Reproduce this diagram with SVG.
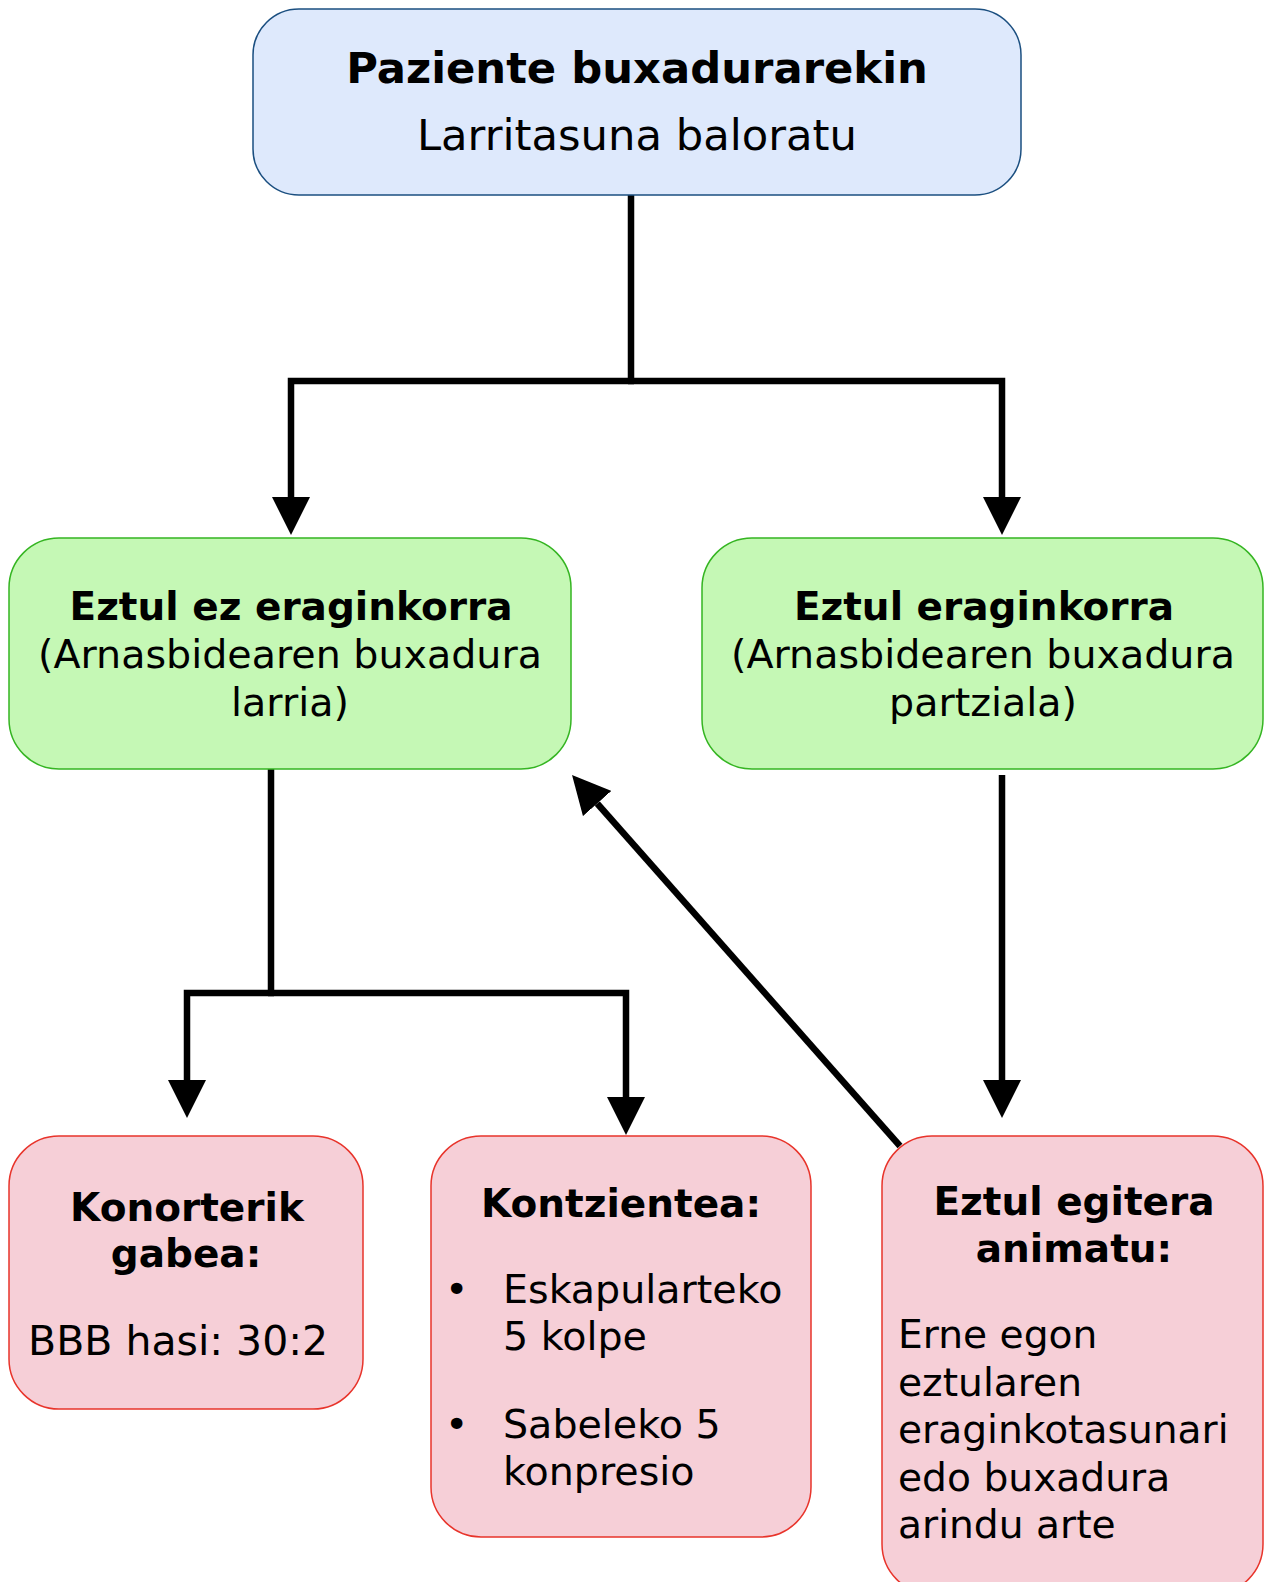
<svg xmlns="http://www.w3.org/2000/svg" width="1264" height="1582" viewBox="0 0 1264 1582">
<style>
text{font-family:"DejaVu Sans","Verdana",sans-serif;fill:#000}
.b{font-weight:bold}
.c{text-anchor:middle}
.top{fill:#dee9fc;stroke:#1b4f80;stroke-width:1.5}
.grn{fill:#c5f8b5;stroke:#35b522;stroke-width:1.5}
.pnk{fill:#f6cfd7;stroke:#e8342b;stroke-width:1.5}
.con{fill:none;stroke:#000;stroke-width:6.5;stroke-linejoin:miter}
</style>
<defs>
<marker id="ah" markerUnits="userSpaceOnUse" viewBox="0 0 38 38" markerWidth="38" markerHeight="38" refX="0" refY="19" orient="auto">
<path d="M0,0 L38,19 L0,38 z" fill="#000"/>
</marker>
</defs>
<g id="connectors">
<path class="con" d="M631,195 V381"/>
<path class="con" d="M634,381 H291 V497" marker-end="url(#ah)"/>
<path class="con" d="M628,381 H1002 V497" marker-end="url(#ah)"/>
<path class="con" d="M271,769 V993"/>
<path class="con" d="M274,993 H187 V1080" marker-end="url(#ah)"/>
<path class="con" d="M268,993 H626 V1097" marker-end="url(#ah)"/>
<path class="con" d="M1002,775 V1080" marker-end="url(#ah)"/>
<path class="con" d="M900,1146 L597.2,803.5" marker-end="url(#ah)"/>
</g>
<g id="n-start">
<rect class="top" x="253" y="9" width="768" height="186" rx="46"/>
<text class="b c" x="637" y="83" font-size="43.3">Paziente buxadurarekin</text>
<text class="c" x="637" y="150" font-size="43.3">Larritasuna baloratu</text>
</g>
<g id="n-ineffective">
<rect class="grn" x="9" y="538" width="562" height="231" rx="50"/>
<text class="b c" x="291" y="620" font-size="39">Eztul ez eraginkorra</text>
<text class="c" x="290" y="668" font-size="39.6">(Arnasbidearen buxadura</text>
<text class="c" x="290" y="716" font-size="39.6">larria)</text>
</g>
<g id="n-effective">
<rect class="grn" x="702" y="538" width="561" height="231" rx="50"/>
<text class="b c" x="984" y="620" font-size="39">Eztul eraginkorra</text>
<text class="c" x="983" y="668" font-size="39.6">(Arnasbidearen buxadura</text>
<text class="c" x="983" y="716" font-size="39.6">partziala)</text>
</g>
<g id="n-unconscious">
<rect class="pnk" x="9" y="1136" width="354" height="273" rx="50"/>
<text class="b c" x="187" y="1221" font-size="39">Konorterik</text>
<text class="b c" x="186" y="1267" font-size="39">gabea:</text>
<text x="28" y="1355" font-size="41">BBB hasi: 30:2</text>
</g>
<g id="n-conscious">
<rect class="pnk" x="431" y="1136" width="380" height="401" rx="50"/>
<text class="b c" x="621" y="1217" font-size="39">Kontzientea:</text>
<text x="445" y="1303" font-size="39.6">•</text>
<text x="503" y="1303" font-size="39.6">Eskapularteko</text>
<text x="503" y="1350" font-size="39.6">5 kolpe</text>
<text x="445" y="1438" font-size="39.6">•</text>
<text x="503" y="1438" font-size="39.6">Sabeleko 5</text>
<text x="503" y="1485" font-size="39.6">konpresio</text>
</g>
<g id="n-encourage">
<rect class="pnk" x="882" y="1136" width="381" height="458" rx="50"/>
<text class="b c" x="1074" y="1215" font-size="39">Eztul egitera</text>
<text class="b c" x="1074" y="1262" font-size="39">animatu:</text>
<text x="898" y="1348" font-size="39.2">Erne egon</text>
<text x="898" y="1396" font-size="39.2">eztularen</text>
<text x="898" y="1443" font-size="39.2">eraginkotasunari</text>
<text x="898" y="1491" font-size="39.2">edo buxadura</text>
<text x="898" y="1538" font-size="39.2">arindu arte</text>
</g>
</svg>
